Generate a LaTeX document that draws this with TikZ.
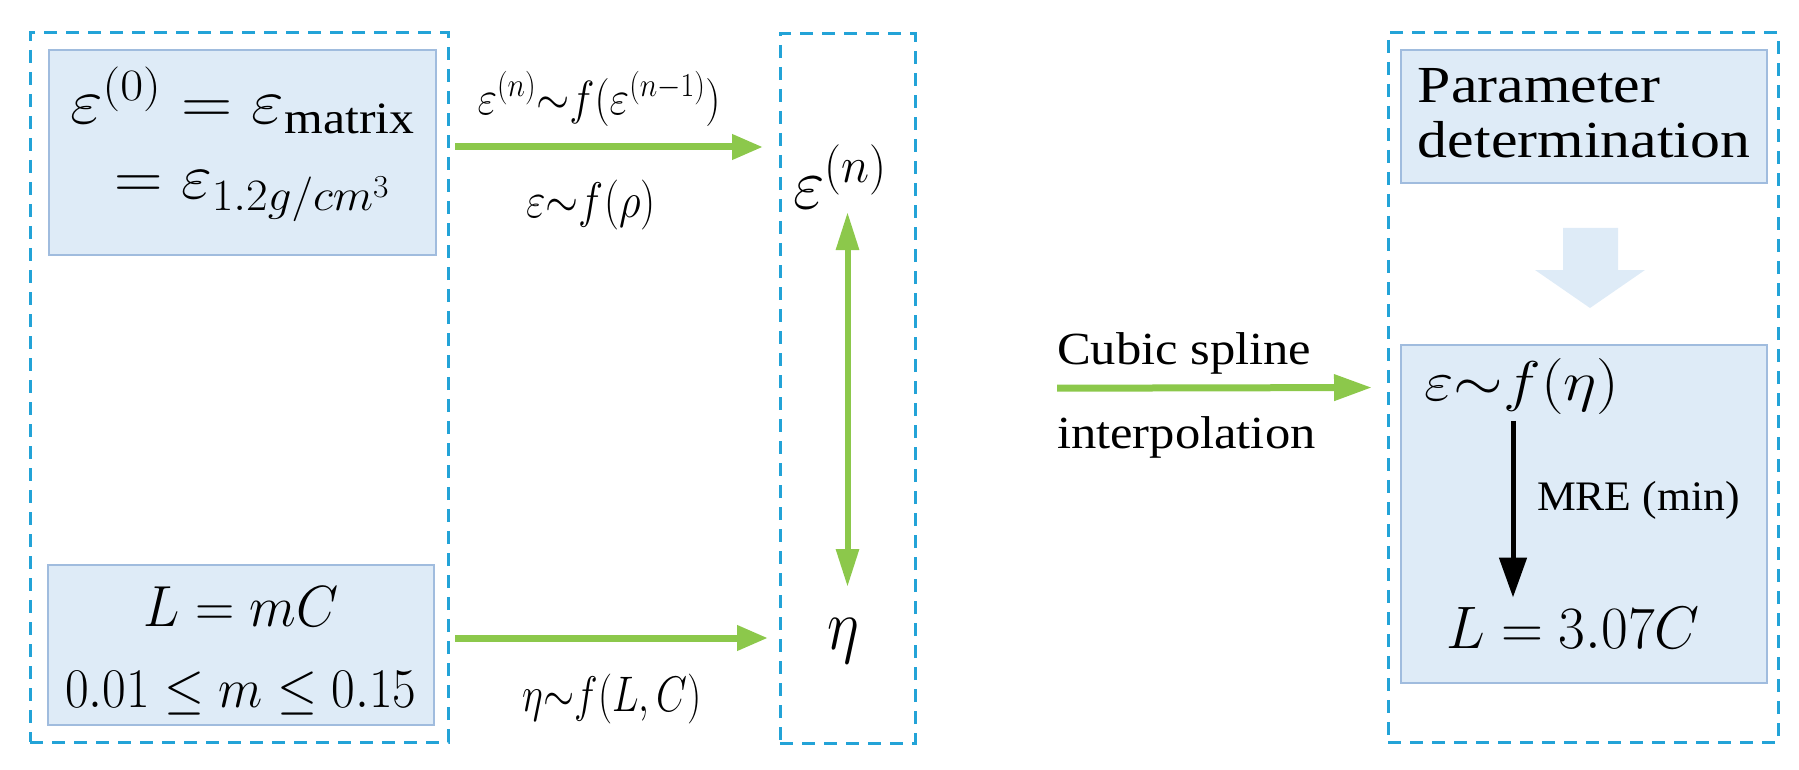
\RequirePackage{fix-cm}
\documentclass[tikz,border=0pt]{standalone}
\usepackage{fontspec}
\setmainfont{Liberation Serif}
\usepackage{amsmath}
\usetikzlibrary{arrows.meta,calc}
\definecolor{frameblue}{RGB}{35,163,215}
\definecolor{boxfill}{RGB}{222,235,247}
\definecolor{boxline}{RGB}{160,188,222}
\definecolor{agreen}{RGB}{140,200,75}
\definecolor{blockfill}{RGB}{222,235,247}
\newcommand{\sx}[2]{\scalebox{#1}[1]{#2}}
\begin{document}
\begin{tikzpicture}[x=1pt,y=-1pt,
  frame/.style={draw=frameblue, line width=3pt, dash pattern=on 13pt off 9pt, inner sep=0pt, outer sep=0pt},
  bluebox/.style={draw=boxline, fill=boxfill, line width=2pt, inner sep=0pt, outer sep=0pt},
  txt/.style={inner sep=0pt, outer sep=0pt, text=black},
  garrow/.style={draw=agreen, line width=7pt, -{Triangle[length=31pt,width=24pt]}},
  garrowv/.style={draw=agreen, line width=6pt, {Triangle[length=38pt,width=22pt]}-{Triangle[length=38pt,width=22pt]}},
  garrowc/.style={draw=agreen, line width=7pt, -{Triangle[length=38pt,width=25pt]}},
  barrow/.style={draw=black, line width=5pt, -{Triangle[length=40pt,width=27pt]}}
]
\useasboundingbox (0,0) rectangle (1799,770);

% dashed frames
\node[frame, minimum width=418pt, minimum height=709pt] (frameL) at (239,387.5) {};
\node[frame, minimum width=135pt, minimum height=709pt] (frameM) at (847.5,388.5) {};
\node[frame, minimum width=390pt, minimum height=709pt] (frameR) at (1583,387.5) {};

% left boxes
\node[bluebox, minimum width=387pt, minimum height=205pt, align=center,
      font=\fontsize{64}{75}\selectfont] (boxTop) at (242.5,152.5)
  {\sx{1.11}{$\varepsilon^{(0)}=\varepsilon_{\mathrm{matrix}}$}\\
   \sx{1.05}{${}=\varepsilon_{1.2g/cm^{3}}$}\rule[-39pt]{0pt}{1pt}};
\node[bluebox, minimum width=386pt, minimum height=160pt, align=center,
      font=\fontsize{58}{81}\selectfont] (boxBot) at (241,645)
  {\rule{0pt}{52.6pt}\sx{0.94}{$L=mC$}\\ \sx{0.92}{\fontsize{56}{81}\selectfont$0.01\le m\le 0.15$}};

% middle
\node[txt, font=\fontsize{72}{74}\selectfont] (epsn) at (840,177) {\sx{0.95}{$\varepsilon^{(n)}$}};
\node[txt, font=\fontsize{72}{74}\selectfont] (eta) at (843,641) {\sx{0.85}{$\eta$}};

% arrow labels
\node[txt, font=\fontsize{48}{50}\selectfont] (lab1) at (599,99) {\sx{0.89}{$\varepsilon^{(n)}{\sim}f(\varepsilon^{(n-1)})$}};
\node[txt, font=\fontsize{50}{52}\selectfont] (lab2) at (591,205) {\sx{0.85}{$\varepsilon{\sim}f(\rho)$}};
\node[txt, font=\fontsize{50}{52}\selectfont] (lab3) at (612,699) {\sx{0.8}{$\eta{\sim}f(L,C)$}};
\node[txt, align=left, anchor=west, font=\fontsize{46}{84}\selectfont] (cubic) at (1057,395)
  {\sx{1.1}{Cubic spline}\\ \sx{1.1}{interpolation}};

% right frame
\node[bluebox, minimum width=366pt, minimum height=133pt, align=left,
      font=\fontsize{52}{55}\selectfont] (param) at (1584,116.5)
  {\sx{1.15}{Parameter}\\ \sx{1.15}{determination}\rule[-7.6pt]{0pt}{1pt}};
\node[bluebox, minimum width=366pt, minimum height=338pt] (rbox) at (1584,514) {};
\fill[blockfill] (1563,228) -- (1618,228) -- (1618,270) -- (1645,270) -- (1590,308)
  -- (1535,270) -- (1563,270) -- cycle;
\node[txt, font=\fontsize{56}{58}\selectfont] (epsf) at (1522,387) {\sx{1.14}{$\varepsilon{\sim}f(\eta)$}};
\node[txt, font=\fontsize{60}{62}\selectfont] (Lres) at (1573,628) {\sx{0.97}{$L=3.07C$}};
\node[txt, anchor=base west, font=\fontsize{42}{44}\selectfont] (mre) at (1537,510) {\sx{1.04}{MRE (min)}};
\coordinate (ax) at (1513,0);
\coordinate (tA) at ([yshift=5.5pt]boxTop.east);
\coordinate (tB) at ([yshift=7pt]boxBot.east);

% connectors
\draw[garrow, shorten <=19pt, shorten >=17pt] (tA) -- (frameM.west |- tA);
\draw[garrow, shorten <=21pt, shorten >=12pt] (tB) -- (frameM.west |- tB);
\draw[garrowv, shorten <=35pt, shorten >=54pt] (frameM.center |- epsn.center) -- (frameM.center |- eta.center);
\draw[garrowc, shorten <=142pt, shorten >=16pt] (frameM.east) -- (frameR.west);
\draw[barrow, shorten <=6pt, shorten >=10pt] (epsf.south -| ax) -- (Lres.north -| ax);
\end{tikzpicture}
\end{document}
